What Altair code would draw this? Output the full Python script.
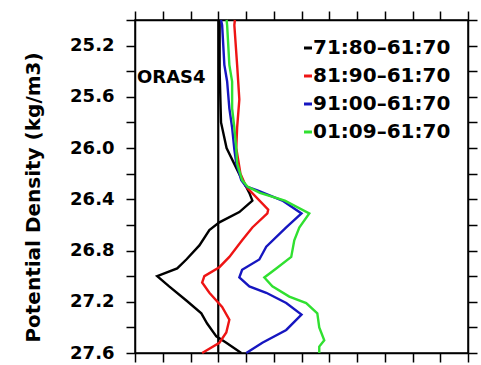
import altair as alt
import pandas as pd

# ---- data ----
series_names = ["71:80–61:70", "81:90–61:70", "91:00–61:70", "01:09–61:70"]
series_colors = ["#000000", "#ee1414", "#1616c0", "#30e030"]

dens_k = [25.00, 25.40, 25.80, 26.00, 26.20, 26.30, 26.35, 26.41, 26.50, 26.58, 26.64, 26.76,
          26.87, 26.94, 27.00, 27.08, 27.19, 27.29, 27.37, 27.47, 27.52, 27.60]
anom_k = [0.05, 0.05, 0.10, 0.30, 0.75, 1.00, 1.12, 1.23, 0.76, 0.04, -0.32, -0.68,
          -1.15, -1.48, -2.20, -1.77, -1.15, -0.61, -0.40, -0.07, 0.29, 0.83]

dens_r = [25.00, 25.04, 25.35, 25.62, 25.84, 26.00, 26.20, 26.30, 26.48, 26.51, 26.62, 26.72,
          26.85, 26.93, 27.00, 27.05, 27.13, 27.24, 27.34, 27.44, 27.52, 27.60]
anom_r = [0.60, 0.58, 0.68, 0.76, 0.68, 0.65, 0.80, 1.00, 1.80, 1.77, 1.23, 0.86,
          0.40, 0.04, -0.50, -0.58, -0.32, 0.14, 0.40, 0.29, 0.04, -0.58]

dens_b = [25.00, 25.04, 25.35, 25.48, 25.69, 25.84, 26.01, 26.12, 26.25, 26.30, 26.33, 26.41,
          26.51, 26.62, 26.77, 26.87, 26.95, 27.01, 27.08, 27.13, 27.21, 27.30, 27.42, 27.52, 27.60]
anom_b = [0.10, 0.14, 0.22, 0.32, 0.40, 0.50, 0.58, 0.65, 0.83, 1.00, 1.41, 2.31,
          3.00, 2.45, 1.73, 1.48, 0.86, 0.76, 1.12, 1.73, 2.45, 3.00, 2.45, 1.59, 1.01]

dens_g = [25.00, 25.04, 25.35, 25.48, 25.69, 25.84, 26.01, 26.12, 26.25, 26.30, 26.35, 26.41,
          26.51, 26.62, 26.72, 26.85, 26.94, 27.01, 27.08, 27.16, 27.21, 27.29, 27.40, 27.50, 27.55, 27.60]
anom_g = [0.30, 0.32, 0.40, 0.50, 0.50, 0.58, 0.65, 0.68, 0.86, 1.05, 1.50, 2.40,
          3.28, 2.92, 2.74, 2.63, 2.09, 1.66, 1.95, 2.56, 3.17, 3.57, 3.64, 3.82, 3.64, 3.64]

x_ticks = [-3, -2, -1, 0, 1, 2, 3, 4, 5, 6, 7, 8, 9]
y_ticks = [25.0, 25.2, 25.4, 25.6, 25.8, 26.0, 26.2, 26.4, 26.6, 26.8, 27.0, 27.2, 27.4, 27.6]
zero_line = [0]
annot_text = ["ORAS4"]
annot_x = [-3]
annot_y = [25.45]

# ---- build table ----
rows = []
for name, dens, anom in zip(series_names, [dens_k, dens_r, dens_b, dens_g],
                            [anom_k, anom_r, anom_b, anom_g]):
    for i, (d, a) in enumerate(zip(dens, anom)):
        rows.append({"series": name, "density": d, "anom": a, "order": i})
df = pd.DataFrame(rows)

FONT = "DejaVu Sans"
xscale = alt.Scale(domain=[-3, 9], nice=False, zero=False)
yscale = alt.Scale(domain=[25.0, 27.6], reverse=True, nice=False, zero=False)

axis_common = dict(grid=False, tickSize=9, tickWidth=1.5, tickColor="black",
                   domainColor="black", domainWidth=1.5)

label_expr = "abs(round(datum.value*10) % 4) == 0 ? format(datum.value, '.1f') : ''"

zero = alt.Chart(pd.DataFrame({"anom": zero_line})).mark_rule(
    color="black", strokeWidth=2.2
).encode(x=alt.X("anom:Q", scale=xscale, axis=None))

lines = alt.Chart(df).mark_line(strokeWidth=2.4).encode(
    x=alt.X("anom:Q", scale=xscale,
            axis=alt.Axis(values=x_ticks, labels=False, title=None, orient="bottom", **axis_common)),
    y=alt.Y("density:Q", scale=yscale,
            axis=alt.Axis(values=y_ticks, labelExpr=label_expr, orient="left",
                          labelFont=FONT, labelFontSize=18, labelFontWeight="bold",
                          labelColor="black", labelPadding=12,
                          title="Potential Density (kg/m3)", titleFont=FONT,
                          titleFontSize=20, titleFontWeight="bold", titleColor="black",
                          titleAngle=270, titleAlign="center", titleBaseline="middle",
                          titleX=-102, titleY=177, **axis_common)),
    color=alt.Color("series:N", scale=alt.Scale(domain=series_names, range=series_colors),
                    legend=alt.Legend(title=None, orient="none", legendX=163, legendY=18,
                                      symbolType="stroke", symbolSize=64, symbolStrokeWidth=3,
                                      labelFont=FONT, labelFontSize=20, labelFontWeight="bold",
                                      labelColor="black", labelOffset={"expr": "-5"}, rowPadding=8,
                                      padding=0)),
    order="order:Q",
)

mirror = alt.Chart(df).mark_point(opacity=0).encode(
    x=alt.X("anom:Q", scale=xscale,
            axis=alt.Axis(values=x_ticks, labels=False, title=None, orient="top", **axis_common)),
    y=alt.Y("density:Q", scale=yscale,
            axis=alt.Axis(values=y_ticks, labels=False, title=None, orient="right", **axis_common)),
)

annot = alt.Chart(pd.DataFrame({"anom": annot_x, "density": annot_y, "label": annot_text})).mark_text(
    align="left", baseline="middle", dx=2, font=FONT, fontSize=18, fontWeight="bold", color="black"
).encode(
    x=alt.X("anom:Q", scale=xscale, axis=None),
    y=alt.Y("density:Q", scale=yscale, axis=None),
    text="label:N",
)

chart = alt.layer(zero, lines, mirror, annot).resolve_axis(
    x="independent", y="independent"
).properties(
    width=333, height=333,
    autosize=alt.AutoSizeParams(type="none"),
    padding={"left": 135, "top": 20, "right": 13, "bottom": 12},
    background="white",
).configure_view(stroke="black", strokeWidth=1.5)

chart.save("out.html", embed_options={"renderer": "svg", "actions": False})
